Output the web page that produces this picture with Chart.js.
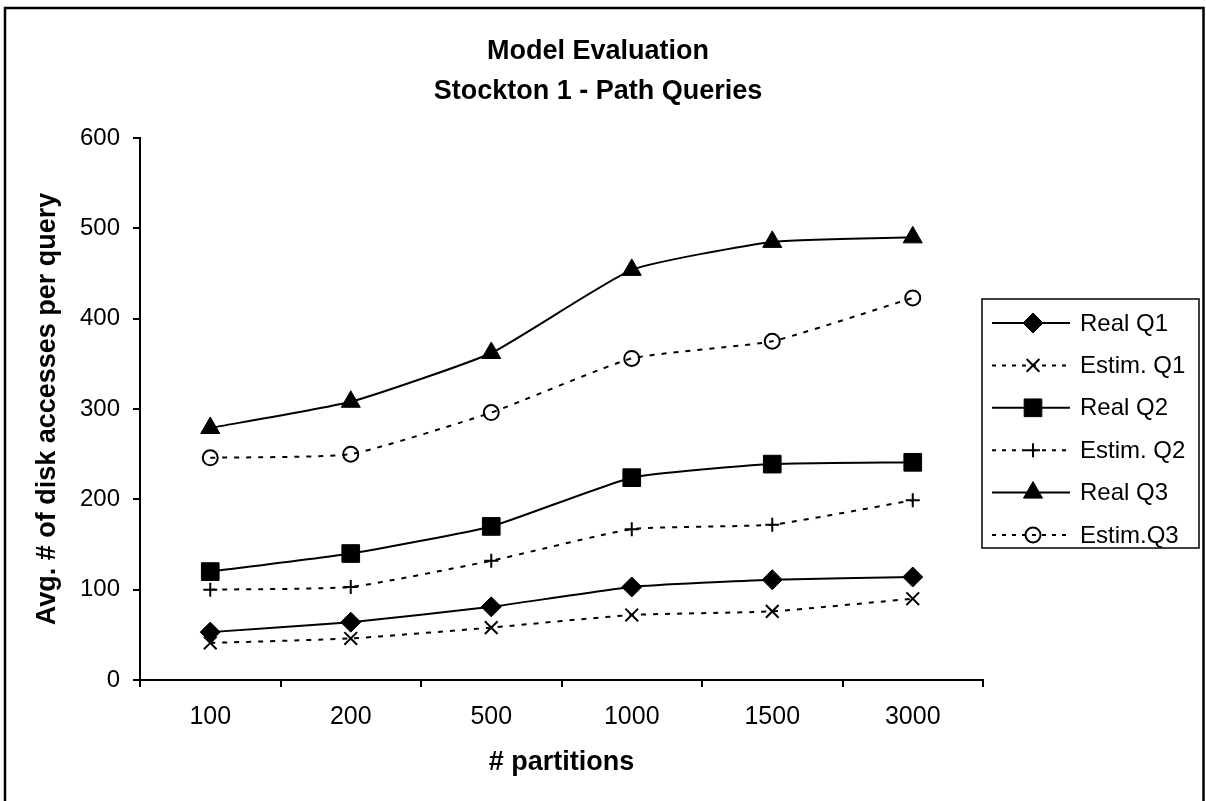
<!DOCTYPE html>
<html><head><meta charset="utf-8">
<script src="https://cdn.jsdelivr.net/npm/chart.js@4/dist/chart.umd.min.js"></script>
<style>html,body{margin:0;padding:0;background:#fff}canvas{display:block}</style>
</head><body>
<canvas id="c" width="1206" height="801"></canvas>
<script>
const categories = ['100', '200', '500', '1000', '1500', '3000'];
const realQ1  = [53, 64, 81, 103, 111, 114];
const estimQ1 = [41, 46, 58, 72, 76, 90];
const realQ2  = [120, 140, 170, 224, 239, 241];
const estimQ2 = [100, 103, 132, 167, 172, 199];
const realQ3  = [279, 308, 362, 454, 485, 490];
const estimQ3 = [246, 250, 296, 356, 375, 423];
const yMin = 0, yMax = 600, yStep = 100;
const titleLines = ['Model Evaluation', 'Stockton 1 - Path Queries'];
const xTitle = '# partitions';
const yTitle = 'Avg. # of disk accesses per query';

Chart.defaults.font.family = "'Liberation Sans', Arial, sans-serif";
Chart.defaults.color = '#000';

const solid = (label, data, style, r) => ({
  label, data, borderColor: '#000', backgroundColor: '#000', borderWidth: 2,
  pointStyle: style, pointRadius: r, pointBorderWidth: 1,
  pointBackgroundColor: '#000', pointBorderColor: '#000', tension: 0.15, fill: false
});
const dashed = (label, data, style, r) => ({
  label, data, borderColor: '#000', backgroundColor: 'rgba(0,0,0,0)', borderWidth: 2,
  borderDash: [5, 7], pointStyle: style, pointRadius: r, pointBorderWidth: 2,
  pointBackgroundColor: 'rgba(0,0,0,0)', pointBorderColor: '#000', tension: 0.15, fill: false
});

const legendPlugin = {
  id: 'boxLegend',
  afterDraw(chart) {
    const ctx = chart.ctx;
    ctx.save();
    ctx.strokeStyle = '#000';
    ctx.lineWidth = 2.5;
    ctx.strokeRect(5, 8, 1198.5, 900);
    ctx.lineWidth = 1.5;
    ctx.strokeRect(982, 299, 217, 249);
    const y0 = 323, dy = 42.4;
    chart.data.datasets.forEach((ds, i) => {
      const y = y0 + i * dy;
      ctx.save();
      ctx.strokeStyle = '#000';
      ctx.lineWidth = ds.borderWidth;
      ctx.setLineDash(ds.borderDash ? [4, 6] : []);
      ctx.beginPath(); ctx.moveTo(992, y); ctx.lineTo(1070, y); ctx.stroke();
      ctx.setLineDash([]);
      ctx.fillStyle = ds.pointBackgroundColor;
      ctx.strokeStyle = ds.pointBorderColor;
      ctx.lineWidth = ds.pointBorderWidth;
      Chart.helpers.drawPoint(ctx, {pointStyle: ds.pointStyle, radius: ds.pointRadius, borderWidth: ds.pointBorderWidth, rotation: 0}, 1033, y);
      ctx.restore();
      ctx.fillStyle = '#000';
      ctx.font = "24px 'Liberation Sans', Arial, sans-serif";
      ctx.textAlign = 'left';
      ctx.textBaseline = 'middle';
      ctx.fillText(ds.label, 1080, y + 1);
    });
    ctx.restore();
  }
};

new Chart(document.getElementById('c'), {
  type: 'line',
  data: {
    labels: categories,
    datasets: [
      solid('Real Q1', realQ1, 'rectRot', 10),
      dashed('Estim. Q1', estimQ1, 'crossRot', 9),
      solid('Real Q2', realQ2, 'rect', 12.5),
      dashed('Estim. Q2', estimQ2, 'cross', 7),
      solid('Real Q3', realQ3, 'triangle', 11),
      dashed('Estim.Q3', estimQ3, 'circle', 7.5)
    ]
  },
  options: {
    responsive: false,
    devicePixelRatio: 1,
    animation: false,
    layout: {padding: {left: 0, right: 10, top: 0, bottom: 0}},
    plugins: {
      legend: {display: false},
      tooltip: {enabled: false},
      title: {
        display: true, text: titleLines, color: '#000',
        font: {size: 27, weight: 'bold', lineHeight: '40px'},
        padding: {top: 32, bottom: 26}
      }
    },
    scales: {
      x: {
        type: 'category',
        offset: true,
        grid: {display: true, offset: true, drawOnChartArea: false, drawTicks: true, tickLength: 7, color: '#000', lineWidth: 2},
        border: {display: true, color: '#000', width: 2},
        ticks: {font: {size: 25}, color: '#000', padding: 15, maxRotation: 0, autoSkip: false},
        title: {display: true, text: xTitle, color: '#000', font: {size: 27, weight: 'bold'}, padding: {top: 0, bottom: 22}},
        afterFit(s) { s.height = 121; }
      },
      y: {
        type: 'linear', position: 'left', min: yMin, max: yMax,
        grid: {display: true, drawOnChartArea: false, drawTicks: true, tickLength: 7, color: '#000', lineWidth: 2},
        border: {display: true, color: '#000', width: 2},
        ticks: {stepSize: yStep, font: {size: 24}, color: '#000', padding: 13},
        title: {display: true, text: yTitle, color: '#000', font: {size: 27, weight: 'bold'}, padding: {top: 31, bottom: 0}},
        afterFit(s) { s.width = 140; }
      },
      yR: {
        type: 'linear', position: 'right', display: true,
        grid: {display: false}, border: {display: false}, ticks: {display: false},
        afterFit(s) { s.width = 213; }
      }
    }
  },
  plugins: [legendPlugin]
});
</script>
</body></html>
